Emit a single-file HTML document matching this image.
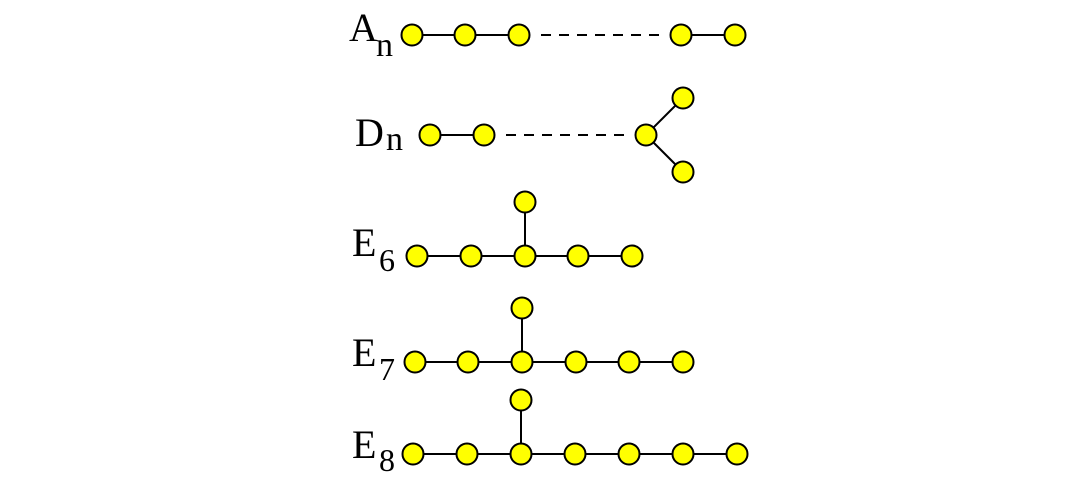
<!DOCTYPE html>
<html><head><meta charset="utf-8"><style>
html,body{margin:0;padding:0;background:#fff;}
svg{display:block;}
text{font-family:"Liberation Serif",serif;fill:#000;}
</style></head><body>
<svg width="1086" height="486" viewBox="0 0 1086 486" xmlns="http://www.w3.org/2000/svg">
<g stroke="#000" stroke-width="2" fill="none">
<line x1="412" y1="35" x2="519" y2="35"/>
<line x1="541" y1="35" x2="665" y2="35" stroke-dasharray="10,8"/>
<line x1="681" y1="35" x2="735" y2="35"/>
<line x1="430" y1="135" x2="484" y2="135"/>
<line x1="506" y1="135" x2="630" y2="135" stroke-dasharray="10,8"/>
<line x1="646" y1="135" x2="683" y2="98"/>
<line x1="646" y1="135" x2="683" y2="172"/>
<line x1="417" y1="256" x2="632" y2="256"/>
<line x1="525" y1="202" x2="525" y2="256"/>
<line x1="415" y1="362" x2="683" y2="362"/>
<line x1="522" y1="308" x2="522" y2="362"/>
<line x1="413" y1="454" x2="737" y2="454"/>
<line x1="521" y1="400" x2="521" y2="454"/>
</g>
<g fill="#ffff00" stroke="#000" stroke-width="2">
<circle cx="412" cy="35" r="10.5"/><circle cx="465" cy="35" r="10.5"/><circle cx="519" cy="35" r="10.5"/><circle cx="681" cy="35" r="10.5"/><circle cx="735" cy="35" r="10.5"/>
<circle cx="430" cy="135" r="10.5"/><circle cx="484" cy="135" r="10.5"/><circle cx="646" cy="135" r="10.5"/><circle cx="683" cy="98" r="10.5"/><circle cx="683" cy="172" r="10.5"/>
<circle cx="417" cy="256" r="10.5"/><circle cx="471" cy="256" r="10.5"/><circle cx="525" cy="256" r="10.5"/><circle cx="578" cy="256" r="10.5"/><circle cx="632" cy="256" r="10.5"/><circle cx="525" cy="202" r="10.5"/>
<circle cx="415" cy="362" r="10.5"/><circle cx="468" cy="362" r="10.5"/><circle cx="522" cy="362" r="10.5"/><circle cx="576" cy="362" r="10.5"/><circle cx="629" cy="362" r="10.5"/><circle cx="683" cy="362" r="10.5"/><circle cx="522" cy="308" r="10.5"/>
<circle cx="413" cy="454" r="10.5"/><circle cx="467" cy="454" r="10.5"/><circle cx="521" cy="454" r="10.5"/><circle cx="575" cy="454" r="10.5"/><circle cx="629" cy="454" r="10.5"/><circle cx="683" cy="454" r="10.5"/><circle cx="737" cy="454" r="10.5"/><circle cx="521" cy="400" r="10.5"/>
</g>
<text x="349" y="41" font-size="40">A</text><text x="376" y="56" font-size="34">n</text>
<text x="355" y="146" font-size="40">D</text><text x="386" y="150" font-size="34">n</text>
<text x="352" y="256" font-size="40">E</text><text x="379" y="271" font-size="32">6</text>
<text x="352" y="366" font-size="40">E</text><text x="379" y="380" font-size="32">7</text>
<text x="352" y="458" font-size="40">E</text><text x="379" y="471" font-size="32">8</text>
</svg>
</body></html>
